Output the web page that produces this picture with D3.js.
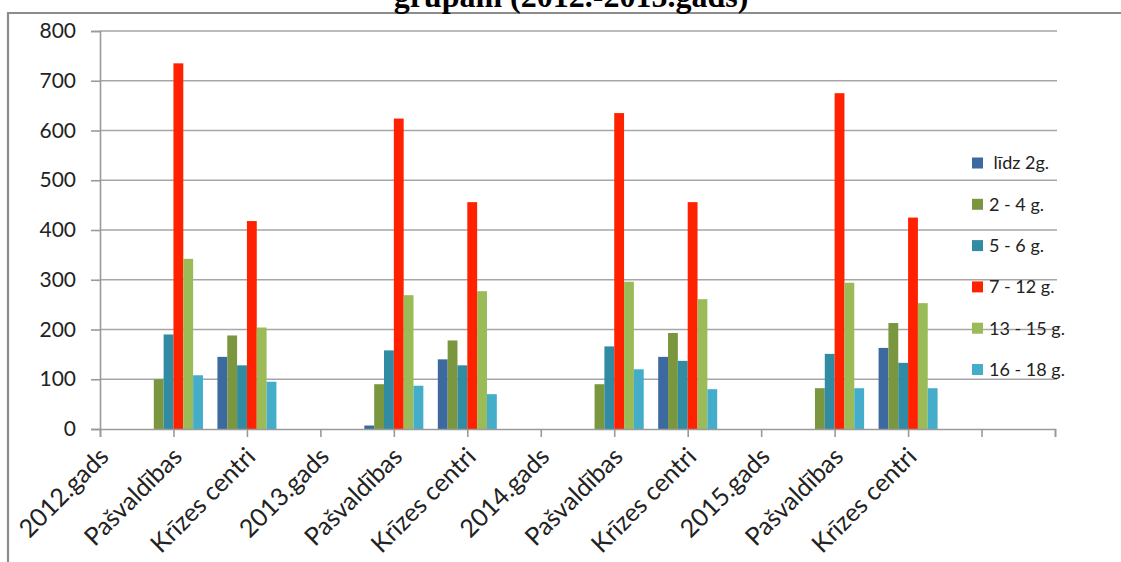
<!DOCTYPE html>
<html>
<head>
<meta charset="utf-8">
<script src="https://cdn.jsdelivr.net/npm/d3@7/dist/d3.min.js"></script>
<style>
  html, body { margin: 0; padding: 0; background: #fff; }
  svg { display: block; }
</style>
</head>
<body>
<svg id="chart" width="1121" height="562"></svg>
<script>
// ---- data ----
const categories = ["2012.gads", "Pašvaldības", "Krīzes centri",
                    "2013.gads", "Pašvaldības", "Krīzes centri",
                    "2014.gads", "Pašvaldības", "Krīzes centri",
                    "2015.gads", "Pašvaldības", "Krīzes centri", "", ""];
const seriesNames = [" līdz 2g.", "2 - 4 g.", "5 - 6 g.", "7 - 12 g.", "13 - 15 g.", "16 - 18 g."];
const lidz2  = [null, 0,   145, null, 7,   140, null, 0,   145, null, 0,   163];
const g2_4   = [null, 100, 188, null, 90,  178, null, 90,  193, null, 82,  213];
const g5_6   = [null, 190, 128, null, 158, 128, null, 166, 137, null, 151, 133];
const g7_12  = [null, 735, 418, null, 624, 456, null, 635, 456, null, 675, 425];
const g13_15 = [null, 342, 204, null, 269, 277, null, 296, 261, null, 294, 253];
const g16_18 = [null, 108, 95,  null, 87,  70,  null, 120, 80,  null, 82,  82];
const yTicks = [0, 100, 200, 300, 400, 500, 600, 700, 800];
const title = "grupām (2012.-2015.gads)";

const seriesValues = [lidz2, g2_4, g5_6, g7_12, g13_15, g16_18];
const colors = ["#3B69A0", "#7A9740", "#318BA3", "#FF2200", "#9BBB59", "#44ADCA"];

// ---- layout ----
const svg = d3.select("#chart");
const font = "Lato, 'Open Sans', sans-serif";

// outer frame
svg.append("path")
  .attr("d", "M8,565 L8,13 L1121,13")
  .attr("fill", "none").attr("stroke", "#8c8c8c").attr("stroke-width", 2.2);

// title (cut off at top, as in the source)
svg.append("text")
  .attr("x", 571).attr("y", 7)
  .attr("text-anchor", "middle")
  .attr("font-family", "'Liberation Serif', 'Times New Roman', serif")
  .attr("font-weight", "bold").attr("font-size", 32)
  .text(title);

const x = d3.scalePoint().domain(d3.range(categories.length)).range([100, 1055]);
const y = d3.scaleLinear().domain([0, 800]).range([429, 31]);
const inner = d3.scaleBand().domain(d3.range(seriesNames.length)).range([-29.5, 29.5]);

// gridlines
svg.append("g").selectAll("line").data(yTicks.filter(d => d > 0)).join("line")
  .attr("x1", 100).attr("x2", 1057)
  .attr("y1", d => y(d)).attr("y2", d => y(d))
  .attr("stroke", "#a6a6a6").attr("stroke-width", 1.6);

// y axis
const yAxis = svg.append("g").attr("transform", "translate(100,0)")
  .call(d3.axisLeft(y).tickValues(yTicks).tickSize(9).tickPadding(15).tickFormat(d3.format("d")));
yAxis.select(".domain").attr("stroke", "#9a9a9a").attr("stroke-width", 1.6);
yAxis.selectAll(".tick line").attr("stroke", "#9a9a9a").attr("stroke-width", 1.6);
yAxis.selectAll(".tick text").attr("font-family", font).attr("font-size", 21).attr("fill", "#222");

// bars
seriesValues.forEach((vals, si) => {
  svg.append("g").selectAll("rect")
    .data(vals.map((v, i) => ({ v, i })).filter(d => d.v !== null && d.v > 0))
    .join("rect")
    .attr("x", d => x(d.i) + inner(si))
    .attr("width", inner.bandwidth())
    .attr("y", d => y(d.v))
    .attr("height", d => y(0) - y(d.v))
    .attr("fill", colors[si]);
});

// x axis (line and ticks)
const xAxis = svg.append("g").attr("transform", "translate(0,429)")
  .call(d3.axisBottom(x).tickSize(8).tickFormat(""));
xAxis.select(".domain").attr("stroke", "#9a9a9a").attr("stroke-width", 1.6);
xAxis.selectAll(".tick line").attr("stroke", "#9a9a9a").attr("stroke-width", 1.6);

// rotated category labels (-45°)
svg.append("g").selectAll("text")
  .data(d3.range(categories.length).filter(i => categories[i] !== ""))
  .join("text")
  .attr("transform", i => `translate(${x(i) + 4},452) rotate(-45)`)
  .attr("text-anchor", "end")
  .attr("dy", "0.35em")
  .attr("font-family", font).attr("font-size", 25).attr("fill", "#222")
  .text(i => categories[i]);

// legend
const legend = svg.append("g");
seriesNames.forEach((name, i) => {
  const cy = 163 + i * 41.3;
  legend.append("rect").attr("x", 972).attr("y", cy - 5.5).attr("width", 11).attr("height", 11).attr("fill", colors[i]);
  legend.append("text").attr("x", 989).attr("y", cy).attr("dy", "0.35em")
    .attr("font-family", font).attr("font-size", 18).attr("fill", "#222")
    .attr("xml:space", "preserve").style("white-space", "pre")
    .text(name);
});
</script>
</body>
</html>
